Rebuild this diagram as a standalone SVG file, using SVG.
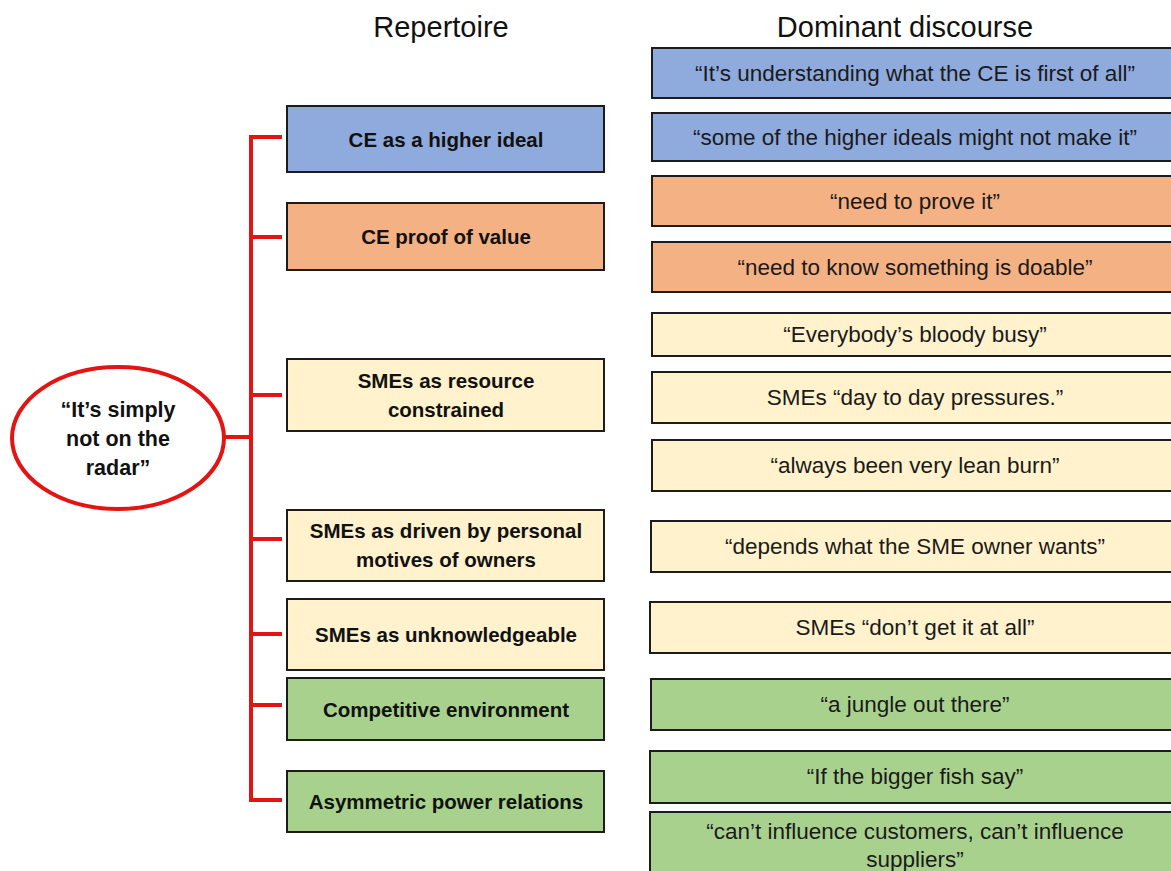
<svg xmlns="http://www.w3.org/2000/svg" width="1171" height="871" viewBox="0 0 1171 871">
<style>
.bg{fill:#ffffff}
.box{stroke:#1c1c1c;stroke-width:2}
.blue{fill:#8faadc}
.orange{fill:#f4b183}
.yellow{fill:#fff2cc}
.green{fill:#a9d18e}
.lt{font-family:"Liberation Sans",Arial,sans-serif;font-weight:bold;font-size:20.5px;fill:#111;text-anchor:middle}
.et{font-size:21.5px}
.rt{font-family:"Liberation Sans",Arial,sans-serif;font-size:22.5px;fill:#1a1a1a;text-anchor:middle}
.hd{font-family:"Liberation Sans",Arial,sans-serif;font-size:29px;fill:#111;text-anchor:middle}
.red{stroke:#e31414;stroke-width:4;fill:none}
</style>
<rect class="bg" x="0" y="0" width="1171" height="871"/>
<g id="headers">
<text class="hd" x="441" y="37">Repertoire</text>
<text class="hd" x="905" y="37">Dominant discourse</text>
</g>
<g id="connectors">
<path class="red" d="M225 437 H251 M282 137 H251 V800 H282 M251 237 H282 M251 395 H282 M251 539 H282 M251 634 H282 M251 705 H282"/>
</g>
<g id="root">
<ellipse cx="118" cy="438" rx="106" ry="71" fill="#ffffff" stroke="#e31414" stroke-width="4"/>
<text class="lt et" x="118" y="417">“It’s simply</text>
<text class="lt et" x="118" y="446">not on the</text>
<text class="lt et" x="118" y="475">radar”</text>
</g>
<g id="rep1"><rect class="box blue" x="287" y="106" width="317" height="66"/><text class="lt" x="446" y="146.5">CE as a higher ideal</text></g>
<g id="rep2"><rect class="box orange" x="287" y="203" width="317" height="67"/><text class="lt" x="446" y="244">CE proof of value</text></g>
<g id="rep3"><rect class="box yellow" x="287" y="359" width="317" height="72"/><text class="lt" x="446" y="388">SMEs as resource</text><text class="lt" x="446" y="417">constrained</text></g>
<g id="rep4"><rect class="box yellow" x="287" y="510" width="317" height="71"/><text class="lt" x="446" y="538">SMEs as driven by personal</text><text class="lt" x="446" y="567">motives of owners</text></g>
<g id="rep5"><rect class="box yellow" x="287" y="599" width="317" height="71"/><text class="lt" x="446" y="642">SMEs as unknowledgeable</text></g>
<g id="rep6"><rect class="box green" x="287" y="678" width="317" height="62"/><text class="lt" x="446" y="716.5">Competitive environment</text></g>
<g id="rep7"><rect class="box green" x="287" y="771" width="317" height="61"/><text class="lt" x="446" y="809">Asymmetric power relations</text></g>
<g id="d1"><rect class="box blue" x="652" y="48" width="528" height="50"/><text class="rt" x="915" y="81">“It’s understanding  what the CE is first of all”</text></g>
<g id="d2"><rect class="box blue" x="652" y="113" width="528" height="48"/><text class="rt" x="915" y="145">“some of the higher ideals might not make it”</text></g>
<g id="d3"><rect class="box orange" x="652" y="176" width="528" height="50"/><text class="rt" x="915" y="209">“need to prove it”</text></g>
<g id="d4"><rect class="box orange" x="652" y="242" width="528" height="50"/><text class="rt" x="915" y="275">“need to know something is doable”</text></g>
<g id="d5"><rect class="box yellow" x="652" y="313" width="528" height="43"/><text class="rt" x="915" y="342">“Everybody’s  bloody busy”</text></g>
<g id="d6"><rect class="box yellow" x="652" y="372" width="528" height="51"/><text class="rt" x="915" y="405">SMEs “day to day pressures.”</text></g>
<g id="d7"><rect class="box yellow" x="652" y="440" width="528" height="51"/><text class="rt" x="915" y="473">“always been very lean burn”</text></g>
<g id="d8"><rect class="box yellow" x="651" y="521" width="529" height="51"/><text class="rt" x="915" y="554">“depends  what the SME owner wants”</text></g>
<g id="d9"><rect class="box yellow" x="650" y="602" width="530" height="51"/><text class="rt" x="915" y="635">SMEs “don’t get it at all”</text></g>
<g id="d10"><rect class="box green" x="651" y="679" width="529" height="51"/><text class="rt" x="915" y="712">“a jungle out there”</text></g>
<g id="d11"><rect class="box green" x="650" y="751" width="530" height="52"/><text class="rt" x="915" y="784">“If the bigger fish say”</text></g>
<g id="d12"><rect class="box green" x="650" y="812" width="530" height="80"/><text class="rt" x="915" y="839">“can’t influence  customers, can’t influence</text><text class="rt" x="915" y="867">suppliers”</text></g>
</svg>
